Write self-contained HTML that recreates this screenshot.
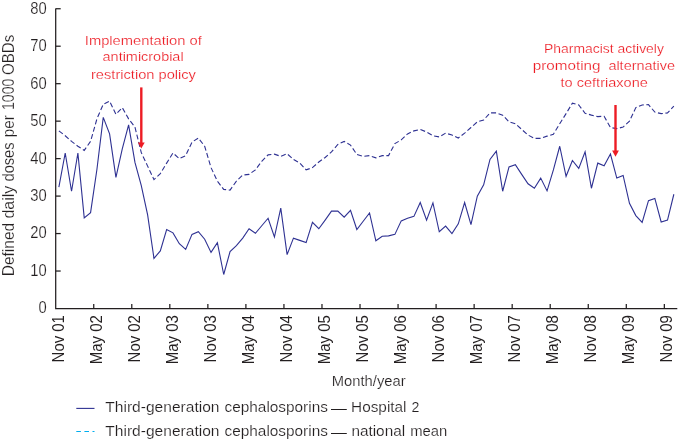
<!DOCTYPE html>
<html lang="en"><head><meta charset="utf-8"><title>Third-generation cephalosporins</title>
<style>html,body{margin:0;padding:0;background:#fff}svg{display:block}text{font-family:"Liberation Sans",sans-serif}</style></head><body>
<svg width="680" height="441" viewBox="0 0 680 441">
<rect width="680" height="441" fill="#fff"/>
<g stroke="#231f20" stroke-width="1.25" fill="none">
<path d="M55.70 8.6V308.50H677.3"/>
<path d="M55.70 271.03h5"/>
<path d="M55.70 233.56h5"/>
<path d="M55.70 196.09h5"/>
<path d="M55.70 158.62h5"/>
<path d="M55.70 121.15h5"/>
<path d="M55.70 83.68h5"/>
<path d="M55.70 46.21h5"/>
<path d="M55.70 8.74h5"/>
<path d="M93.74 308.50v-4.4"/>
<path d="M131.78 308.50v-4.4"/>
<path d="M169.82 308.50v-4.4"/>
<path d="M207.86 308.50v-4.4"/>
<path d="M245.90 308.50v-4.4"/>
<path d="M283.94 308.50v-4.4"/>
<path d="M321.98 308.50v-4.4"/>
<path d="M360.02 308.50v-4.4"/>
<path d="M398.06 308.50v-4.4"/>
<path d="M436.10 308.50v-4.4"/>
<path d="M474.14 308.50v-4.4"/>
<path d="M512.18 308.50v-4.4"/>
<path d="M550.22 308.50v-4.4"/>
<path d="M588.26 308.50v-4.4"/>
<path d="M626.30 308.50v-4.4"/>
<path d="M664.34 308.50v-4.4"/>
</g>
<g fill="#231f20" font-size="16" text-anchor="end" stroke="#fff" stroke-width="0.18" paint-order="fill">
<text x="46.7" y="313.40" textLength="8.2" lengthAdjust="spacingAndGlyphs">0</text>
<text x="46.7" y="275.93" textLength="16.4" lengthAdjust="spacingAndGlyphs">10</text>
<text x="46.7" y="238.46" textLength="16.4" lengthAdjust="spacingAndGlyphs">20</text>
<text x="46.7" y="200.99" textLength="16.4" lengthAdjust="spacingAndGlyphs">30</text>
<text x="46.7" y="163.52" textLength="16.4" lengthAdjust="spacingAndGlyphs">40</text>
<text x="46.7" y="126.05" textLength="16.4" lengthAdjust="spacingAndGlyphs">50</text>
<text x="46.7" y="88.58" textLength="16.4" lengthAdjust="spacingAndGlyphs">60</text>
<text x="46.7" y="51.11" textLength="16.4" lengthAdjust="spacingAndGlyphs">70</text>
<text x="46.7" y="13.64" textLength="16.4" lengthAdjust="spacingAndGlyphs">80</text>
</g>
<g fill="#231f20" font-size="16.4" text-anchor="end">
<text transform="translate(63.60 315.1) rotate(-90)" textLength="47.3" lengthAdjust="spacingAndGlyphs">Nov 01</text>
<text transform="translate(101.64 315.1) rotate(-90)" textLength="49.2" lengthAdjust="spacingAndGlyphs">May 02</text>
<text transform="translate(139.68 315.1) rotate(-90)" textLength="47.3" lengthAdjust="spacingAndGlyphs">Nov 02</text>
<text transform="translate(177.72 315.1) rotate(-90)" textLength="49.2" lengthAdjust="spacingAndGlyphs">May 03</text>
<text transform="translate(215.76 315.1) rotate(-90)" textLength="47.3" lengthAdjust="spacingAndGlyphs">Nov 03</text>
<text transform="translate(253.80 315.1) rotate(-90)" textLength="49.2" lengthAdjust="spacingAndGlyphs">May 04</text>
<text transform="translate(291.84 315.1) rotate(-90)" textLength="47.3" lengthAdjust="spacingAndGlyphs">Nov 04</text>
<text transform="translate(329.88 315.1) rotate(-90)" textLength="49.2" lengthAdjust="spacingAndGlyphs">May 05</text>
<text transform="translate(367.92 315.1) rotate(-90)" textLength="47.3" lengthAdjust="spacingAndGlyphs">Nov 05</text>
<text transform="translate(405.96 315.1) rotate(-90)" textLength="49.2" lengthAdjust="spacingAndGlyphs">May 06</text>
<text transform="translate(444.00 315.1) rotate(-90)" textLength="47.3" lengthAdjust="spacingAndGlyphs">Nov 06</text>
<text transform="translate(482.04 315.1) rotate(-90)" textLength="49.2" lengthAdjust="spacingAndGlyphs">May 07</text>
<text transform="translate(520.08 315.1) rotate(-90)" textLength="47.3" lengthAdjust="spacingAndGlyphs">Nov 07</text>
<text transform="translate(558.12 315.1) rotate(-90)" textLength="49.2" lengthAdjust="spacingAndGlyphs">May 08</text>
<text transform="translate(596.16 315.1) rotate(-90)" textLength="47.3" lengthAdjust="spacingAndGlyphs">Nov 08</text>
<text transform="translate(634.20 315.1) rotate(-90)" textLength="49.2" lengthAdjust="spacingAndGlyphs">May 09</text>
<text transform="translate(672.24 315.1) rotate(-90)" textLength="47.3" lengthAdjust="spacingAndGlyphs">Nov 09</text>
</g>
<g font-size="15.9" fill="#231f20" stroke="#fff" stroke-width="0.18" paint-order="fill">
<text transform="translate(13.8 276.3) rotate(-90)" textLength="53.5" lengthAdjust="spacingAndGlyphs">Defined</text>
<text transform="translate(13.8 218.6) rotate(-90)" textLength="33.0" lengthAdjust="spacingAndGlyphs">daily</text>
<text transform="translate(13.8 181.5) rotate(-90)" textLength="39.1" lengthAdjust="spacingAndGlyphs">doses</text>
<text transform="translate(13.8 137.2) rotate(-90)" textLength="22.1" lengthAdjust="spacingAndGlyphs">per</text>
<text transform="translate(13.8 110.1) rotate(-90)" textLength="31.6" lengthAdjust="spacingAndGlyphs">1000</text>
<text transform="translate(13.8 74.9) rotate(-90)" textLength="40.1" lengthAdjust="spacingAndGlyphs">OBDs</text>
</g>
<text x="331.8" y="385.6" font-size="14.8" fill="#231f20" stroke="#fff" stroke-width="0.18" paint-order="fill" textLength="73.8" lengthAdjust="spacingAndGlyphs">Month/year</text>
<polyline points="58.87,187.12 65.21,153.00 71.55,191.25 77.89,153.00 84.23,217.88 90.57,212.62 96.91,169.50 103.25,117.38 109.59,133.88 115.93,177.38 122.27,148.88 128.61,124.88 134.95,162.38 141.29,185.62 147.63,214.88 153.97,258.38 160.31,250.88 166.65,229.50 172.99,232.88 179.33,243.75 185.67,249.38 192.01,234.38 198.35,231.75 204.69,239.25 211.03,252.38 217.37,242.62 223.71,274.50 230.05,251.62 236.39,245.62 242.73,238.12 249.07,228.75 255.41,233.25 261.75,225.75 268.09,218.25 274.43,237.00 280.77,208.12 287.11,254.62 293.45,238.12 299.79,240.38 306.13,242.62 312.47,222.38 318.81,228.75 325.15,220.12 331.49,211.12 337.83,211.12 344.17,217.12 350.51,210.38 356.85,229.50 363.19,221.25 369.53,213.00 375.87,240.75 382.21,236.25 388.55,235.88 394.89,234.38 401.23,220.88 407.57,218.25 413.91,216.38 420.25,202.50 426.59,220.12 432.93,202.88 439.27,231.75 445.61,226.12 451.95,233.62 458.29,223.88 464.63,202.50 470.97,224.62 477.31,196.12 483.65,184.88 489.99,159.38 496.33,151.12 502.67,191.25 509.01,166.88 515.35,164.62 521.69,174.38 528.03,183.75 534.37,188.25 540.71,178.12 547.05,190.88 553.39,169.88 559.73,146.25 566.07,176.25 572.41,160.50 578.75,168.38 585.09,151.88 591.43,188.25 597.77,163.12 604.11,165.75 610.45,154.08 616.79,178.12 623.13,175.50 629.47,203.25 635.81,215.62 642.15,222.38 648.49,200.62 654.83,198.38 661.17,222.00 667.51,220.12 673.85,194.25" fill="none" stroke="#2e3192" stroke-width="1.1" stroke-linejoin="miter"/>
<polyline points="58.87,130.88 65.21,135.75 71.55,141.38 77.89,146.25 84.23,150.38 90.57,141.38 96.91,118.88 103.25,104.30 109.59,101.10 115.93,114.38 122.27,107.62 128.61,118.88 134.95,127.12 141.29,152.62 147.63,166.12 153.97,179.62 160.31,173.62 166.65,163.12 172.99,153.00 179.33,158.62 185.67,155.62 192.01,142.12 198.35,138.00 204.69,146.25 211.03,167.62 217.37,181.12 223.71,189.38 230.05,190.12 236.39,181.12 242.73,175.12 249.07,174.38 255.41,169.88 261.75,161.25 268.09,154.88 274.43,154.12 280.77,156.38 287.11,153.75 293.45,159.38 299.79,163.12 306.13,169.88 312.47,167.62 318.81,162.00 325.15,157.50 331.49,151.88 337.83,144.38 344.17,141.38 350.51,145.12 356.85,154.50 363.19,156.38 369.53,155.62 375.87,157.88 382.21,155.62 388.55,155.62 394.89,143.62 401.23,139.88 407.57,133.88 413.91,130.88 420.25,129.38 426.59,132.00 432.93,135.75 439.27,136.88 445.61,133.12 451.95,135.00 458.29,138.00 464.63,133.12 470.97,127.50 477.31,121.88 483.65,120.00 489.99,112.88 496.33,112.88 502.67,115.12 509.01,121.88 515.35,123.75 521.69,129.38 528.03,135.00 534.37,138.38 540.71,138.38 547.05,136.12 553.39,134.25 559.73,123.75 566.07,113.62 572.41,103.12 578.75,105.00 585.09,113.25 591.43,115.12 597.77,116.62 604.11,116.25 610.45,127.50 616.79,128.62 623.13,127.12 629.47,121.12 635.81,107.62 642.15,105.00 648.49,104.62 654.83,112.12 661.17,113.62 667.51,112.88 673.85,106.12" fill="none" stroke="#2e3192" stroke-width="1.1" stroke-dasharray="5 2.6"/>
<path d="M141.30 87.40V143.60" stroke="#ed1c24" stroke-width="2.4" fill="none"/>
<path d="M137.90 142.40h6.8l-3.4 6.2z" fill="#ed1c24"/>
<path d="M615.50 105.00V151.70" stroke="#ed1c24" stroke-width="2.4" fill="none"/>
<path d="M612.10 150.50h6.8l-3.4 6.2z" fill="#ed1c24"/>
<g fill="#ed1c24" font-size="13.4" stroke="#fff" stroke-width="0.2" paint-order="fill">
<text x="84.8" y="44.6" textLength="117.1" lengthAdjust="spacingAndGlyphs" xml:space="preserve">Implementation of</text>
<text x="102.6" y="61.4" textLength="81.0" lengthAdjust="spacingAndGlyphs" xml:space="preserve">antimicrobial</text>
<text x="91.0" y="78.6" textLength="104.9" lengthAdjust="spacingAndGlyphs" xml:space="preserve">restriction policy</text>
<text x="544.0" y="52.8" textLength="119.9" lengthAdjust="spacingAndGlyphs" xml:space="preserve">Pharmacist actively</text>
<text x="532.8" y="70.2" textLength="67.7" lengthAdjust="spacingAndGlyphs" xml:space="preserve">promoting</text>
<text x="608.4" y="70.2" textLength="66.6" lengthAdjust="spacingAndGlyphs" xml:space="preserve">alternative</text>
<text x="560.5" y="87.3" textLength="87.4" lengthAdjust="spacingAndGlyphs" xml:space="preserve">to ceftriaxone</text>
</g>
<path d="M76.3 408.4H94.5" stroke="#2e3192" stroke-width="1.1"/>
<path d="M76.3 431.5H94.5" stroke="#00aeef" stroke-width="1.1" stroke-dasharray="4.6 3.5"/>
<g fill="#231f20" font-size="15" stroke="#fff" stroke-width="0.18" paint-order="fill">
<text x="105.3" y="411.8" textLength="114.2" lengthAdjust="spacingAndGlyphs">Third-generation</text>
<text x="224.5" y="411.8" textLength="103.4" lengthAdjust="spacingAndGlyphs">cephalosporins</text>
<text x="331.0" y="413.0" textLength="15.8" lengthAdjust="spacingAndGlyphs" stroke="none">—</text>
<text x="351.1" y="411.8" textLength="55.4" lengthAdjust="spacingAndGlyphs">Hospital</text>
<text x="411.4" y="411.8" textLength="7.9" lengthAdjust="spacingAndGlyphs">2</text>
<text x="105.3" y="435.7" textLength="114.2" lengthAdjust="spacingAndGlyphs">Third-generation</text>
<text x="224.5" y="435.7" textLength="103.4" lengthAdjust="spacingAndGlyphs">cephalosporins</text>
<text x="331.0" y="436.9" textLength="15.8" lengthAdjust="spacingAndGlyphs" stroke="none">—</text>
<text x="351.4" y="435.7" textLength="53.7" lengthAdjust="spacingAndGlyphs">national</text>
<text x="410.2" y="435.7" textLength="37.1" lengthAdjust="spacingAndGlyphs">mean</text>
</g>
</svg></body></html>
